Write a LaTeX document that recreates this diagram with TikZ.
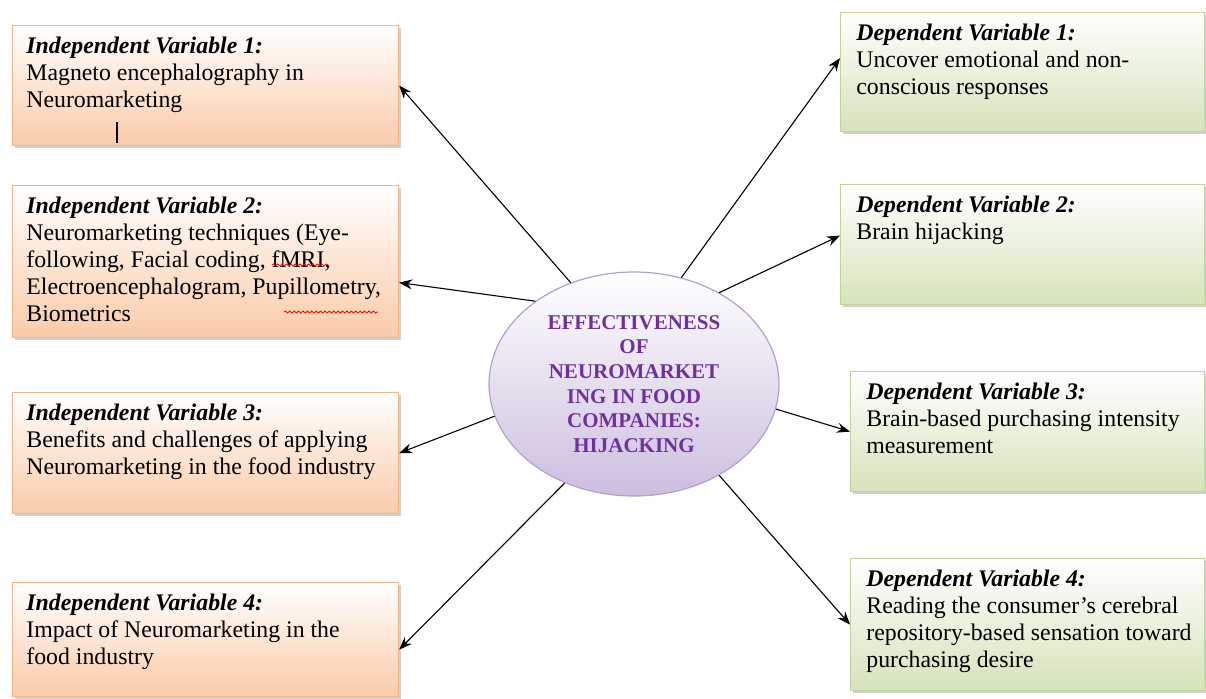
\documentclass[tikz,border=0pt]{standalone}
\usepackage{fontspec}
\setmainfont{Liberation Serif}
\usetikzlibrary{shadows,calc,decorations.pathmorphing,arrows.meta,shapes.geometric}
\definecolor{ivbot}{RGB}{250,203,168}
\definecolor{ivdraw}{RGB}{245,180,135}
\definecolor{dvbot}{RGB}{213,227,186}
\definecolor{dvdraw}{RGB}{192,212,152}
\definecolor{elbot}{RGB}{204,190,222}
\definecolor{eldraw}{RGB}{178,160,206}
\definecolor{elltext}{RGB}{112,48,160}
\tikzset{
  box/.style={draw, line width=0.6pt, anchor=north west, inner sep=0pt,
    drop shadow={shadow xshift=1.3pt, shadow yshift=-1.3pt, opacity=0.3, fill=black!60}},
  ivbox/.style={box, draw=ivdraw, top color=white, bottom color=ivbot},
  dvbox/.style={box, draw=dvdraw, top color=white, bottom color=dvbot},
  txt/.style={anchor=north west, inner sep=0pt, align=left, font=\fontsize{11.9}{13.5}\selectfont},
  conn/.style={-{Stealth[length=6.5pt,width=5pt]}, line width=0.55pt},
  wavy/.style={red, line width=0.4pt, decorate, decoration={snake, amplitude=0.5pt, segment length=2.2pt}},
}
\newcommand{\hd}[1]{\textbf{\textit{#1}}}
\begin{document}
\begin{tikzpicture}[x=0.5pt, y=-0.5pt]
\useasboundingbox (0,0) rectangle (1206,698);
% left boxes
\node[ivbox, minimum width=193pt, minimum height=60pt] (iv1) at (12,25) {};
\node[ivbox, minimum width=193pt, minimum height=76pt] (iv2) at (12,185) {};
\node[ivbox, minimum width=193pt, minimum height=60.5pt] (iv3) at (12,392) {};
\node[ivbox, minimum width=193pt, minimum height=57pt] (iv4) at (12,582) {};
% right boxes
\node[dvbox, minimum width=182pt, minimum height=59.5pt] (dv1) at (840,12) {};
\node[dvbox, minimum width=182pt, minimum height=60pt] (dv2) at (840,184) {};
\node[dvbox, minimum width=177pt, minimum height=60pt] (dv3) at (850,371) {};
\node[dvbox, minimum width=177pt, minimum height=66pt] (dv4) at (850,558) {};
% texts
\node[txt] (iv1t) at ($(iv1.north west)+(14,12)$) {\hd{Independent Variable 1:}\\Magneto encephalography in\\Neuromarketing};
\node[txt] (iv2t) at ($(iv2.north west)+(14,12)$) {\hd{Independent Variable 2:}\\Neuromarketing techniques (Eye-\\following, Facial coding, fMRI,\\Electroencephalogram, Pupillometry,\\Biometrics};
\node[txt] (iv3t) at ($(iv3.north west)+(14,12)$) {\hd{Independent Variable 3:}\\Benefits and challenges of applying\\Neuromarketing in the food industry};
\node[txt] (iv4t) at ($(iv4.north west)+(14,12)$) {\hd{Independent Variable 4:}\\Impact of Neuromarketing in the\\food industry};
\node[txt] (dv1t) at ($(dv1.north west)+(16,12)$) {\hd{Dependent Variable 1:}\\Uncover emotional and non-\\conscious responses};
\node[txt] (dv2t) at ($(dv2.north west)+(16,12)$) {\hd{Dependent Variable 2:}\\Brain hijacking};
\node[txt] (dv3t) at ($(dv3.north west)+(16,12)$) {\hd{Dependent Variable 3:}\\Brain-based purchasing intensity\\measurement};
\node[txt] (dv4t) at ($(dv4.north west)+(16,12)$) {\hd{Dependent Variable 4:}\\Reading the consumer’s cerebral\\repository-based sensation toward\\purchasing desire};
% cursor mark and spell-check underlines
\draw[line width=1.4pt, black!85!blue] (117,122) -- (117,143);
\draw[wavy] (272,265) -- (328,265);
\draw[wavy] (284,312) -- (378,312);
% ellipse
\node[ellipse, draw=eldraw, line width=0.6pt, top color=white, bottom color=elbot,
  minimum width=145pt, minimum height=112pt, inner sep=0pt, align=center,
  font=\fontsize{10.5}{12.3}\selectfont\bfseries, text=elltext] (ell) at (634,384)
  {EFFECTIVENESS\\OF\\NEUROMARKET\\ING IN FOOD\\COMPANIES:\\HIJACKING};
% connectors
\draw[conn] (ell.122) -- (iv1.east);
\draw[conn] (ell.140) -- ($(iv2.east)+(0,21)$);
\draw[conn] (ell.193) -- (iv3.east);
\draw[conn] (ell.235) -- ($(iv4.east)+(0,10)$);
\draw[conn] (ell.66) -- ($(dv1.west)+(0,-14)$);
\draw[conn] (ell.47) -- ($(dv2.west)+(0,-9)$);
\draw[conn] (ell.350) -- (dv3.west);
\draw[conn] (ell.313) -- (dv4.west);
\end{tikzpicture}
\end{document}
